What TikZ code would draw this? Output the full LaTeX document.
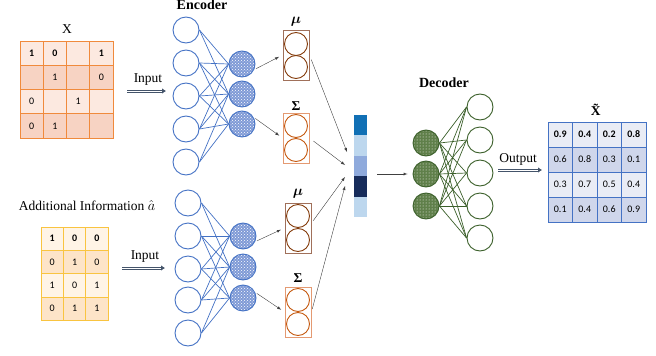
\documentclass[tikz,border=0pt]{standalone}
\usepackage{fontspec}
\usepackage{amsmath,bm}
\setmainfont{Liberation Serif}
\newfontfamily\cellfont{Carlito}
\usetikzlibrary{arrows,arrows.meta,patterns}
\definecolor{encblue}{HTML}{4472C4}
\definecolor{encfill}{HTML}{7F9AD6}
\definecolor{decgreen}{HTML}{3B5F2A}
\definecolor{decfill}{HTML}{5F7F4A}
\definecolor{mubox}{HTML}{A0705A}
\definecolor{mucirc}{HTML}{843C0C}
\definecolor{sigbox}{HTML}{E49A72}
\definecolor{sigcirc}{HTML}{C55A11}
\definecolor{xborder}{HTML}{F08A3C}
\definecolor{xlight}{HTML}{FCE9E0}
\definecolor{xdark}{HTML}{F7D3C3}
\definecolor{aborder}{HTML}{F9C440}
\definecolor{alight}{HTML}{FFF4E6}
\definecolor{adark}{HTML}{FDE4C8}
\definecolor{oborder}{HTML}{4472C4}
\definecolor{olight}{HTML}{E9ECF5}
\definecolor{odark}{HTML}{CFD6EB}
\definecolor{barA}{HTML}{1170B5}
\definecolor{barB}{HTML}{BDD7EE}
\definecolor{barC}{HTML}{8FAADC}
\definecolor{barD}{HTML}{172C5B}
\definecolor{arrowgray}{HTML}{44546A}
\tikzset{
  neuron/.style={circle, draw=encblue, line width=0.9pt, minimum size=26pt, inner sep=0pt},
  encnode/.style={neuron, preaction={fill=encfill}, pattern=crosshatch dots, pattern color=white},
  outneuron/.style={neuron, draw=decgreen},
  decnode/.style={outneuron, preaction={fill=decfill}, pattern=dots, pattern color=white},
  encline/.style={encblue, line width=0.7pt},
  decline/.style={decgreen, line width=0.7pt},
  latbox/.style={draw, line width=0.9pt, minimum width=26pt, minimum height=50pt, inner sep=0pt},
  latcirc/.style={circle, draw, line width=0.9pt, minimum size=23pt, inner sep=0pt},
  thinarrow/.style={->, >=latex, draw=black!75, line width=0.4pt},
  flowline/.style={arrowgray, line width=0.6pt},
  cell/.style={draw, line width=0.8pt, inner sep=0pt, font=\cellfont\fontsize{10}{12}\selectfont},
  barcell/.style={minimum width=13pt, minimum height=20.4pt, inner sep=0pt},
  lbl/.style={font=\fontsize{13.5}{16}\selectfont}
}
\begin{document}
\begin{tikzpicture}[x=1pt, y=-1pt]
  \useasboundingbox (0,0) rectangle (656,356);

  % input matrix X
  \node [lbl] (xlabel) at (67,29) {X};
  \foreach \r/\f/\a/\b/\c/\d in {1/xlight/\textbf{1}/\textbf{0}/{}/\textbf{1}, 2/xdark/{}/1/{}/0,
                                 3/xlight/0/{}/1/{}, 4/xdark/0/1/{}/{}}
    \foreach \v [count=\k] in {\a,\b,\c,\d}
      \node [cell, draw=xborder, fill=\f, minimum width=23.25pt, minimum height=24.25pt]
        (x-\r-\k) at ({20+23.25*(\k-0.5)},{41+24.25*(\r-0.5)}) {\v};

  % additional information
  \node [lbl] (alabel) at (87,206) {Additional Information $\hat{a}$};
  \foreach \r/\f/\a/\b/\c in {1/alight/\textbf{1}/\textbf{0}/\textbf{0}, 2/adark/0/1/0,
                              3/alight/1/0/1, 4/adark/0/1/1}
    \foreach \v [count=\k] in {\a,\b,\c}
      \node [cell, draw=aborder, fill=\f, minimum width=22.4pt, minimum height=23.3pt]
        (a-\r-\k) at ({41+22.4*(\k-0.5)},{227+23.3*(\r-0.5)}) {\v};

  % input / output arrows
  \coordinate (in1s) at (127,91);
  \coordinate (in1e) at (166,91);
  \node [lbl] (in1l) at (148,80) {Input};
  \coordinate (in2s) at (122,268);
  \coordinate (in2e) at (165,268);
  \node [lbl] (in2l) at (145,257) {Input};
  \coordinate (outs) at (498,170);
  \coordinate (oute) at (542,170);
  \node [lbl] (outl) at (518,159) {Output};
  \foreach \s/\e in {in1s/in1e, in2s/in2e, outs/oute} {
    \draw [flowline] ([yshift=-1.2pt]\s) -- ([yshift=-1.2pt,xshift=-3pt]\e);
    \draw [flowline] ([yshift=1.2pt]\s) -- ([yshift=1.2pt,xshift=-3pt]\e);
    \draw [flowline, -{Latex[length=4pt,width=5.5pt]}] ([xshift=-4pt]\e) -- (\e);
  }

  % encoders
  \node [lbl, font=\fontsize{14}{16}\selectfont\bfseries] (enclabel) at (202,5) {Encoder};
  \foreach \y [count=\i] in {30,63,96,129,162}
    \node [neuron] (ea\i) at (186,\y) {};
  \foreach \y [count=\i] in {64,94,124}
    \node [encnode] (eh\i) at (242,\y) {};
  \foreach \y [count=\i] in {203,236,269,300,333}
    \node [neuron] (fa\i) at (188,\y) {};
  \foreach \y [count=\i] in {236,267,298}
    \node [encnode] (fh\i) at (243,\y) {};
  \foreach \i/\j in {1/1,1/2,2/1,2/2,2/3,3/1,3/2,3/3,4/1,4/2,4/3,5/2,5/3} {
    \draw [encline] (ea\i.east) -- (eh\j.west);
    \draw [encline] (fa\i.east) -- (fh\j.west);
  }

  % latent boxes
  \node [latbox, draw=mubox] (mu1) at (296,55) {};
  \node [latcirc, draw=mucirc] (mu1a) at (296,44) {};
  \node [latcirc, draw=mucirc] (mu1b) at (296,67) {};
  \node [lbl] (mu1l) at (296,22) {$\bm{\mu}$};
  \node [latbox, draw=sigbox] (sig1) at (296,138) {};
  \node [latcirc, draw=sigcirc] (sig1a) at (296,126) {};
  \node [latcirc, draw=sigcirc] (sig1b) at (296,150) {};
  \node [lbl] (sig1l) at (296,106) {\textbf{Σ}};
  \node [latbox, draw=mubox] (mu2) at (298,228) {};
  \node [latcirc, draw=mucirc] (mu2a) at (298,216) {};
  \node [latcirc, draw=mucirc] (mu2b) at (298,240) {};
  \node [lbl] (mu2l) at (298,194) {$\bm{\mu}$};
  \node [latbox, draw=sigbox] (sig2) at (298,312) {};
  \node [latcirc, draw=sigcirc] (sig2a) at (298,300) {};
  \node [latcirc, draw=sigcirc] (sig2b) at (298,324) {};
  \node [lbl] (sig2l) at (298,278) {\textbf{Σ}};

  \draw [thinarrow, shorten <=2pt, shorten >=4pt] (eh1.-25) -- (mu1.west);
  \draw [thinarrow, shorten <=2pt, shorten >=4pt] (eh3.30) -- (sig1.west);
  \draw [thinarrow, shorten <=2pt, shorten >=4pt] (fh1.-25) -- (mu2.west);
  \draw [thinarrow, shorten <=2pt, shorten >=4pt] (fh3.25) -- (sig2.west);

  % latent vector
  \foreach \c [count=\i] in {barA,barB,barC,barD,barB}
    \node [barcell, fill=\c] (z\i) at (360.5,{115+20.4*\i-10.2}) {};
  \coordinate (t1) at (347,152);
  \coordinate (t2) at (345,165);
  \coordinate (t3) at (345,177);
  \coordinate (t4) at (345,186);
  \draw [thinarrow, shorten <=5pt] (mu1.east) -- (t1);
  \draw [thinarrow, shorten <=5pt] (sig1.east) -- (t2);
  \draw [thinarrow, shorten <=3pt] (mu2.20) -- (t3);
  \draw [thinarrow, shorten <=3pt] (sig2.east) -- (t4);

  % decoder
  \node [lbl, font=\fontsize{14}{16}\selectfont\bfseries] (declabel) at (444,83) {Decoder};
  \foreach \y [count=\i] in {143,174,206}
    \node [decnode] (dh\i) at (426,\y) {};
  \foreach \y [count=\i] in {107,140,173,206,238}
    \node [outneuron] (do\i) at (480,\y) {};
  \foreach \i in {1,2,3}
    \foreach \j in {1,...,5}
      \draw [decline] (dh\i.east) -- (do\j.west);
  \draw [thinarrow, shorten <=10pt, shorten >=5pt] (z3.east |- dh2) -- (dh2.west);

  % output matrix
  \node [lbl] (olabel) at (598,110) {\textbf{\~{X}}};
  \foreach \r/\f/\a/\b/\c/\d in {1/olight/\textbf{0.9}/\textbf{0.4}/\textbf{0.2}/\textbf{0.8},
                                 2/odark/0.6/0.8/0.3/0.1, 3/olight/0.3/0.7/0.5/0.4,
                                 4/odark/0.1/0.4/0.6/0.9}
    \foreach \v [count=\k] in {\a,\b,\c,\d}
      \node [cell, draw=oborder, fill=\f, minimum width=24.5pt, minimum height=25pt]
        (o-\r-\k) at ({548+24.5*(\k-0.5)},{122+25*(\r-0.5)}) {\v};
\end{tikzpicture}
\end{document}
